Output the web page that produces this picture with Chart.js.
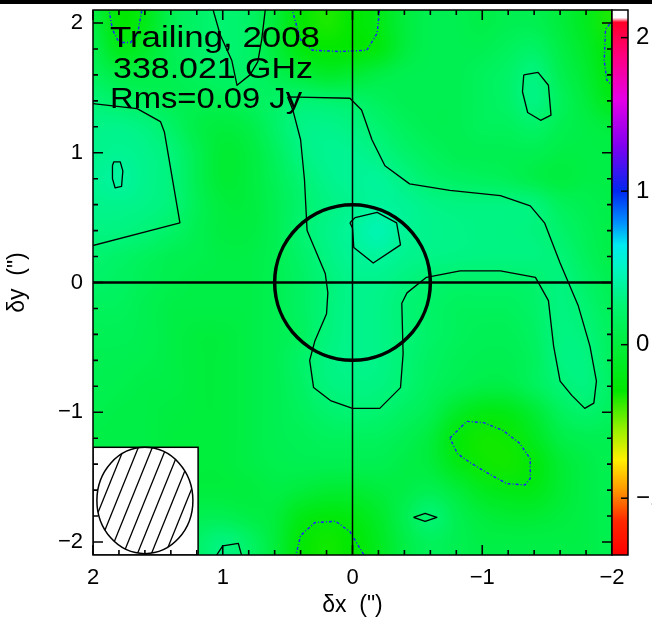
<!DOCTYPE html>
<html>
<head>
<meta charset="utf-8">
<script src="https://cdn.jsdelivr.net/npm/chart.js@4.4.1/dist/chart.umd.min.js"></script>
<style>
  html, body { margin: 0; padding: 0; background: #fff; overflow: hidden; }
  canvas { display: block; }
</style>
</head>
<body>
<canvas id="map" width="652" height="624"></canvas>
<script>
// ---- map grid (cell centres, arcsec offsets) ----
const gridX = [2.0, 1.8, 1.6, 1.4, 1.2, 1.0, 0.8, 0.6, 0.4, 0.2, 0.0, -0.2, -0.4, -0.6, -0.8, -1.0, -1.2, -1.4, -1.6, -1.8, -2.0];
const gridY = [2.0, 1.8, 1.6, 1.4, 1.2, 1.0, 0.8, 0.6, 0.4, 0.2, 0.0, -0.2, -0.4, -0.6, -0.8, -1.0, -1.2, -1.4, -1.6, -1.8, -2.0];
// flux density (Jy/beam), one row per gridY value, columns follow gridX
const fluxGrid = [
  [0.05,-0.30,-0.20,0.10,0.20,0.25,0.20,0.00,-0.30,-0.35,-0.30,-0.20,0.00,0.10,0.10,0.05,0.10,0.10,0.00,-0.15,-0.35],
  [0.10,-0.20,-0.10,0.10,0.20,0.25,0.20,0.00,-0.25,-0.30,-0.30,-0.25,0.00,0.10,0.10,0.10,0.15,0.20,0.05,-0.10,-0.30],
  [0.15,0.05,0.05,0.10,0.15,0.20,0.20,0.10,0.00,-0.10,-0.05,0.05,0.10,0.10,0.10,0.15,0.20,0.30,0.10,-0.05,-0.28],
  [0.27,0.20,0.15,0.10,0.10,0.10,0.15,0.20,0.26,0.25,0.22,0.15,0.10,0.10,0.10,0.15,0.20,0.32,0.15,0.00,-0.20],
  [0.32,0.33,0.30,0.20,0.05,0.00,0.05,0.20,0.32,0.33,0.30,0.24,0.15,0.10,0.10,0.15,0.15,0.20,0.10,0.05,0.00],
  [0.33,0.35,0.33,0.28,0.10,-0.05,0.00,0.15,0.30,0.35,0.35,0.30,0.22,0.15,0.10,0.10,0.10,0.10,0.05,0.05,0.05],
  [0.35,0.40,0.33,0.29,0.10,-0.05,0.00,0.12,0.25,0.33,0.36,0.38,0.30,0.22,0.18,0.15,0.12,0.05,0.00,0.05,0.05],
  [0.33,0.33,0.32,0.28,0.12,0.00,0.00,0.10,0.22,0.30,0.34,0.38,0.36,0.32,0.30,0.30,0.30,0.29,0.15,0.10,0.05],
  [0.30,0.30,0.27,0.20,0.10,0.02,0.02,0.10,0.25,0.32,0.38,0.46,0.36,0.33,0.32,0.31,0.30,0.29,0.22,0.12,0.05],
  [0.24,0.20,0.15,0.10,0.08,0.05,0.05,0.10,0.20,0.30,0.36,0.38,0.34,0.32,0.31,0.30,0.30,0.30,0.27,0.15,0.05],
  [0.20,0.18,0.12,0.08,0.05,0.05,0.05,0.10,0.18,0.27,0.33,0.33,0.29,0.24,0.20,0.20,0.20,0.22,0.30,0.20,0.10],
  [0.15,0.15,0.10,0.05,0.05,0.05,0.05,0.10,0.18,0.27,0.33,0.32,0.26,0.20,0.15,0.15,0.15,0.20,0.30,0.25,0.12],
  [0.12,0.12,0.10,0.05,0.00,0.00,0.05,0.10,0.15,0.28,0.33,0.32,0.27,0.20,0.15,0.12,0.12,0.18,0.30,0.28,0.15],
  [0.10,0.10,0.08,0.05,0.00,0.00,0.05,0.10,0.20,0.30,0.33,0.32,0.26,0.18,0.12,0.10,0.10,0.15,0.30,0.30,0.15],
  [0.10,0.08,0.05,0.05,0.00,0.00,0.05,0.10,0.18,0.29,0.31,0.30,0.25,0.15,0.10,0.05,0.05,0.15,0.26,0.30,0.18],
  [0.08,0.05,0.05,0.02,0.00,0.00,0.05,0.10,0.15,0.22,0.26,0.24,0.18,0.10,-0.10,-0.22,-0.20,-0.05,0.15,0.22,0.15],
  [0.05,0.05,0.05,0.00,0.00,0.00,0.05,0.10,0.12,0.15,0.15,0.15,0.10,0.00,-0.27,-0.33,-0.32,-0.15,0.05,0.10,0.10],
  [0.05,0.05,0.05,0.00,0.00,0.00,0.05,0.08,0.10,0.10,0.10,0.10,0.05,0.00,-0.20,-0.32,-0.33,-0.26,-0.05,0.05,0.10],
  [0.05,0.05,0.05,0.00,0.00,0.00,0.00,0.05,0.00,-0.05,-0.05,0.00,0.05,0.10,0.00,-0.15,-0.20,-0.20,-0.05,0.05,0.10],
  [0.05,0.05,0.05,0.05,0.10,0.10,0.05,0.00,-0.20,-0.25,-0.22,-0.10,0.10,0.27,0.10,0.00,-0.05,-0.05,0.00,0.05,0.10],
  [0.05,0.05,0.10,0.15,0.20,0.30,0.20,0.00,-0.28,-0.33,-0.30,-0.15,0.05,0.15,0.10,0.05,0.05,0.05,0.05,0.05,0.10]
];

// ---- contours: +3 rms (solid) and -3 rms (dotted), [dx, dy] in arcsec ----
const posLobeWest  = [[2.02,1.38],[1.66,1.34],[1.48,1.24],[1.45,1.16],[1.33,0.46],[2.02,0.28]];
const posKnotWest  = [[1.84,0.93],[1.79,0.93],[1.77,0.86],[1.78,0.74],[1.83,0.73],[1.85,0.80],[1.85,0.90],[1.84,0.93]];
const posBand      = [[0.50,1.43],[0.02,1.42],[-0.07,1.33],[-0.15,1.10],[-0.25,0.90],[-0.44,0.76],[-0.75,0.71],[-1.14,0.67],
                      [-1.37,0.59],[-1.48,0.46],[-1.60,0.15],[-1.74,-0.18],[-1.83,-0.49],[-1.88,-0.76],[-1.86,-0.93],[-1.79,-0.97],
                      [-1.69,-0.87],[-1.60,-0.76],[-1.55,-0.49],[-1.51,-0.14],[-1.41,0.04],[-1.14,0.09],[-0.83,0.09],[-0.57,0.04],
                      [-0.42,-0.08],[-0.38,-0.16],[-0.39,-0.55],[-0.37,-0.81],[-0.21,-0.97],[0.00,-0.97],[0.17,-0.91],[0.30,-0.81],
                      [0.33,-0.60],[0.29,-0.45],[0.20,-0.24],[0.19,-0.08],[0.21,0.07],[0.35,0.40],[0.37,0.79],[0.40,1.10],
                      [0.46,1.33],[0.50,1.43]];
const posPeak      = [[0.02,0.46],[-0.02,0.50],[-0.19,0.54],[-0.34,0.46],[-0.37,0.29],[-0.16,0.15],[-0.01,0.27],[0.00,0.42],[0.02,0.46]];
const posNorth     = [[1.08,2.12],[1.02,1.91],[0.93,1.71],[0.89,1.52],[0.79,1.60],[0.73,1.70],[0.70,1.87],[0.67,2.12]];
const posNorthEast = [[-1.32,1.60],[-1.43,1.62],[-1.51,1.52],[-1.53,1.29],[-1.45,1.25],[-1.35,1.31],[-1.31,1.47],[-1.32,1.60]];
const posSouthEast = [[-0.47,-1.81],[-0.56,-1.78],[-0.65,-1.81],[-0.56,-1.84],[-0.47,-1.81]];
const posSouth     = [[1.06,-2.12],[1.00,-2.03],[0.88,-2.01],[0.85,-2.12]];

const negNorthWest = [[1.88,2.12],[1.85,1.95],[1.80,1.85],[1.71,1.85],[1.67,1.90],[1.65,1.95],[1.62,2.12]];
const negNorth     = [[0.47,2.12],[0.40,1.87],[0.31,1.79],[0.10,1.78],[-0.11,1.79],[-0.19,1.92],[-0.21,2.12]];
const negNorthEast = [[-2.02,2.04],[-1.95,1.95],[-1.94,1.71],[-1.96,1.56],[-2.02,1.50]];
const negSouthEast = [[-0.75,-1.20],[-0.88,-1.07],[-1.01,-1.08],[-1.16,-1.14],[-1.29,-1.24],[-1.37,-1.36],[-1.37,-1.51],
                      [-1.33,-1.56],[-1.19,-1.55],[-1.06,-1.48],[-0.91,-1.39],[-0.81,-1.32],[-0.75,-1.20]];
const negSouth     = [[0.44,-2.12],[0.40,-1.95],[0.29,-1.85],[0.13,-1.84],[0.02,-1.92],[-0.10,-2.12]];

// ---- axes, colour bar, overlays ----
const xTicks = [2, 1, 0, -1, -2];
const yTicks = [2, 1, 0, -1, -2];
const cbTicks = [2, 1, 0, -1];
const cbRange = [-1.37, 2.18];
const cmapValues = [-1.37, -1.15, -0.95, -0.75, -0.55, -0.30, 0.00, 0.25, 0.50, 0.65, 0.80, 1.00, 1.30, 1.60, 1.90, 2.10, 2.13, 2.18];
const cmapColors = [[255,0,0],[255,40,0],[255,150,0],[255,240,0],[150,240,0],[0,232,0],[0,238,60],[0,244,112],[0,245,195],
                    [0,235,240],[0,140,255],[0,40,240],[130,0,240],[230,0,230],[255,0,120],[255,0,40],[255,255,255],[255,255,255]];
const diskRadius = 0.6;                 // arcsec
const beamBoxX = [2.0, 1.19], beamBoxY = [-2.1, -1.27];
const beamCentre = [1.6, -1.68], beamAxes = [0.37, 0.41];
const infoLines = ['Trailing, 2008', '338.021 GHz', 'Rms=0.09 Jy'];

const FONT = "'Liberation Sans', Arial, Helvetica, sans-serif";
Chart.defaults.font.family = FONT;
Chart.defaults.color = '#000';

function colourFor(v) {
  if (v <= cmapValues[0]) return cmapColors[0];
  for (let i = 1; i < cmapValues.length; i++) {
    if (v <= cmapValues[i]) {
      const t = (v - cmapValues[i - 1]) / (cmapValues[i] - cmapValues[i - 1]);
      const a = cmapColors[i - 1], b = cmapColors[i];
      return [0, 1, 2].map(k => Math.round(a[k] + (b[k] - a[k]) * t));
    }
  }
  return cmapColors[cmapColors.length - 1];
}
const fmt = v => (v < 0 ? '\u2212' + Math.abs(v) : String(v));

function contour(points, negative) {
  return {
    data: points.map(([x, y]) => ({ x, y })),
    showLine: true, fill: false, tension: 0,
    pointRadius: 0, pointHoverRadius: 0,
    borderColor: negative ? '#2020ff' : '#000',
    borderWidth: negative ? 1.4 : 1.3,
    borderDash: negative ? [3, 2, 1, 2] : [],
    borderJoinStyle: 'round'
  };
}

const mapLayers = {
  id: 'mapLayers',
  beforeDatasetsDraw(chart) {
    const { ctx, chartArea: a, scales: { x, y } } = chart;
    const off = document.createElement('canvas');
    off.width = gridX.length; off.height = gridY.length;
    const octx = off.getContext('2d');
    const img = octx.createImageData(off.width, off.height);
    fluxGrid.forEach((row, j) => row.forEach((v, i) => {
      const c = colourFor(v), k = (j * off.width + i) * 4;
      img.data[k] = c[0]; img.data[k + 1] = c[1]; img.data[k + 2] = c[2]; img.data[k + 3] = 255;
    }));
    octx.putImageData(img, 0, 0);
    const hx = Math.abs(gridX[1] - gridX[0]) / 2, hy = Math.abs(gridY[1] - gridY[0]) / 2;
    const px0 = x.getPixelForValue(gridX[0] + hx), px1 = x.getPixelForValue(gridX[gridX.length - 1] - hx);
    const py0 = y.getPixelForValue(gridY[0] + hy), py1 = y.getPixelForValue(gridY[gridY.length - 1] - hy);
    ctx.save();
    ctx.beginPath(); ctx.rect(a.left, a.top, a.width, a.height); ctx.clip();
    ctx.imageSmoothingEnabled = true; ctx.imageSmoothingQuality = 'high';
    ctx.drawImage(off, px0, py0, px1 - px0, py1 - py0);
    ctx.restore();
  },
  afterDatasetsDraw(chart) {
    const { ctx, chartArea: a, scales: { x, y, cb } } = chart;
    const x0 = x.getPixelForValue(0), y0 = y.getPixelForValue(0);
    ctx.save();
    ctx.beginPath(); ctx.rect(a.left, a.top, a.width, a.height); ctx.clip();
    ctx.strokeStyle = '#000';
    // reference cross
    ctx.lineWidth = 1.5;
    ctx.beginPath(); ctx.moveTo(x0, a.top); ctx.lineTo(x0, a.bottom); ctx.stroke();
    ctx.lineWidth = 2.5;
    ctx.beginPath(); ctx.moveTo(a.left, y0); ctx.lineTo(a.right, y0); ctx.stroke();
    // planet disk
    const rx = Math.abs(x.getPixelForValue(diskRadius) - x0), ry = Math.abs(y.getPixelForValue(diskRadius) - y0);
    ctx.lineWidth = 3.5;
    ctx.beginPath(); ctx.ellipse(x0, y0, rx, ry, 0, 0, Math.PI * 2); ctx.stroke();
    // beam box
    const bx0 = x.getPixelForValue(beamBoxX[0]), bx1 = x.getPixelForValue(beamBoxX[1]);
    const by0 = y.getPixelForValue(beamBoxY[1]), by1 = y.getPixelForValue(beamBoxY[0]);
    ctx.fillStyle = '#fff';
    ctx.fillRect(bx0, by0, bx1 - bx0, by1 - by0);
    ctx.lineWidth = 1.5;
    ctx.strokeRect(bx0, by0, bx1 - bx0, by1 - by0);
    const cx = x.getPixelForValue(beamCentre[0]), cy = y.getPixelForValue(beamCentre[1]);
    const erx = Math.abs(x.getPixelForValue(beamCentre[0] - beamAxes[0]) - cx);
    const ery = Math.abs(y.getPixelForValue(beamCentre[1] + beamAxes[1]) - cy);
    ctx.save();
    ctx.beginPath(); ctx.ellipse(cx, cy, erx, ery, 0, 0, Math.PI * 2); ctx.clip();
    ctx.lineWidth = 1.3;
    const ang = 68 * Math.PI / 180, dx = Math.cos(ang), dy = -Math.sin(ang);
    for (let o = -140; o <= 140; o += 14) {
      ctx.beginPath();
      ctx.moveTo(cx + o - dx * 120, cy - dy * 120);
      ctx.lineTo(cx + o + dx * 120, cy + dy * 120);
      ctx.stroke();
    }
    ctx.restore();
    ctx.lineWidth = 1.5;
    ctx.beginPath(); ctx.ellipse(cx, cy, erx, ery, 0, 0, Math.PI * 2); ctx.stroke();
    // annotation text
    ctx.fillStyle = '#000';
    ctx.font = '30px ' + FONT;
    ctx.textBaseline = 'alphabetic';
    const lineX = [110, 113, 110], lineBase = [47, 78, 108], lineW = [210, 200, 192];
    infoLines.forEach((t, i) => {
      const w = ctx.measureText(t).width;
      ctx.save(); ctx.translate(lineX[i], lineBase[i]); ctx.scale(lineW[i] / w, 1);
      ctx.fillText(t, 0, 0); ctx.restore();
    });
    ctx.restore();

    // tick marks (inward) and frame
    ctx.save();
    ctx.strokeStyle = '#000'; ctx.lineWidth = 1.6;
    for (let k = -10; k <= 10; k++) {
      const v = k / 5, len = k % 5 === 0 ? 10 : 5;
      const px = x.getPixelForValue(v), py = y.getPixelForValue(v);
      ctx.beginPath();
      ctx.moveTo(px, a.bottom); ctx.lineTo(px, a.bottom - len);
      ctx.moveTo(px, a.top); ctx.lineTo(px, a.top + len);
      ctx.moveTo(a.left, py); ctx.lineTo(a.left + len, py);
      ctx.moveTo(a.right, py); ctx.lineTo(a.right - len, py);
      ctx.stroke();
    }
    ctx.lineWidth = 1.5;
    ctx.strokeRect(a.left, a.top, a.width, a.height);

    // colour bar
    const cbW = 16, cl = cb.left;
    for (let py = Math.floor(cb.top); py < cb.bottom; py++) {
      const c = colourFor(cb.getValueForPixel(py + 0.5));
      ctx.fillStyle = `rgb(${c[0]},${c[1]},${c[2]})`;
      ctx.fillRect(cl, py, cbW, 1);
    }
    ctx.lineWidth = 1.5;
    ctx.strokeRect(cl, cb.top, cbW, cb.bottom - cb.top);
    cbTicks.forEach(v => {
      const py = cb.getPixelForValue(v);
      ctx.beginPath(); ctx.moveTo(cl + cbW, py); ctx.lineTo(cl + cbW - 7, py); ctx.stroke();
    });
    // top border strip
    ctx.fillStyle = '#000';
    ctx.fillRect(0, 0, chart.width, 4);
    ctx.restore();
  }
};

new Chart(document.getElementById('map'), {
  type: 'scatter',
  data: {
    datasets: [
      contour(posLobeWest), contour(posKnotWest), contour(posBand), contour(posPeak),
      contour(posNorth), contour(posNorthEast), contour(posSouthEast), contour(posSouth),
      contour(negNorthWest, true), contour(negNorth, true), contour(negNorthEast, true),
      contour(negSouthEast, true), contour(negSouth, true)
    ]
  },
  options: {
    responsive: false, animation: false, events: [],
    layout: { padding: { top: 10, left: 0, right: 0, bottom: 0 } },
    plugins: { legend: { display: false }, tooltip: { enabled: false } },
    scales: {
      x: {
        type: 'linear', reverse: true, min: -2, max: 2, position: 'bottom',
        grid: { display: false, drawTicks: false }, border: { display: false },
        afterBuildTicks: s => { s.ticks = xTicks.map(v => ({ value: v })); },
        ticks: { callback: fmt, font: { size: 22 }, padding: 10, maxRotation: 0, autoSkip: false },
        title: { display: true, text: 'δx  (")', font: { size: 23 }, padding: { top: 0, bottom: 5 } },
        afterFit: s => { s.height = 69; s.paddingLeft = 0; s.paddingRight = 0; }
      },
      y: {
        type: 'linear', min: -2.1, max: 2.1, position: 'left',
        grid: { display: false, drawTicks: false }, border: { display: false },
        afterBuildTicks: s => { s.ticks = yTicks.map(v => ({ value: v })); },
        ticks: { callback: fmt, font: { size: 22 }, padding: 10, autoSkip: false },
        title: { display: true, text: 'δy  (")', font: { size: 23 }, padding: { top: 4, bottom: 0 } },
        afterFit: s => { s.width = 93; s.paddingTop = 0; s.paddingBottom = 0; }
      },
      cb: {
        type: 'linear', min: cbRange[0], max: cbRange[1], position: 'right',
        grid: { display: false, drawTicks: false }, border: { display: false },
        afterBuildTicks: s => { s.ticks = cbTicks.map(v => ({ value: v })); },
        ticks: { callback: fmt, font: { size: 24 }, padding: 24, autoSkip: false },
        afterFit: s => { s.width = 40; s.paddingTop = 0; s.paddingBottom = 0; }
      }
    }
  },
  plugins: [mapLayers]
});
</script>
</body>
</html>
